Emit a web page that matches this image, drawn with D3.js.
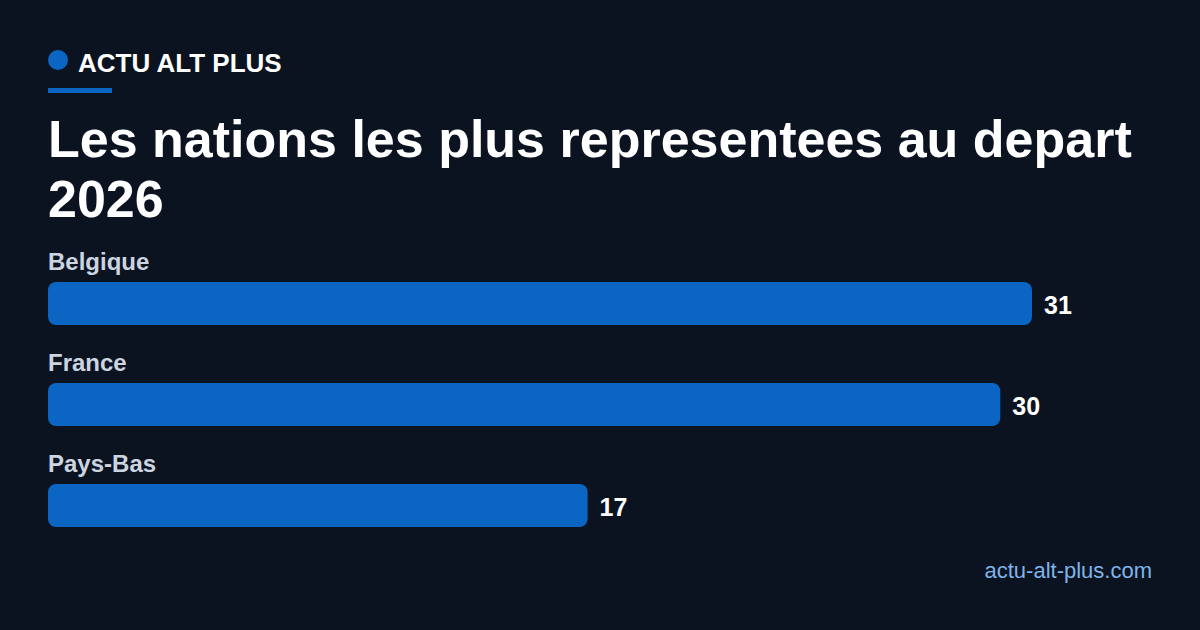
<!DOCTYPE html>
<html>
<head>
<meta charset="utf-8">
<script src="https://cdn.jsdelivr.net/npm/d3@7"></script>
<style>
  html, body { margin: 0; padding: 0; background: #0b1320; }
  svg { display: block; font-family: "Liberation Sans", Arial, sans-serif; }
</style>
</head>
<body>
<svg id="chart" width="1200" height="630"></svg>
<script>
// Chart data
var countries = ["Belgique", "France", "Pays-Bas"];
var counts = [31, 30, 17];

var brand = "ACTU ALT PLUS";
var titleLines = ["Les nations les plus representees au depart", "2026"];
var source = "actu-alt-plus.com";

var width = 1200, height = 630;
var svg = d3.select("#chart");

// Background
svg.append("rect")
    .attr("width", width)
    .attr("height", height)
    .attr("fill", "#0b1320");

// Brand header
svg.append("circle")
    .attr("cx", 58)
    .attr("cy", 60)
    .attr("r", 10)
    .attr("fill", "#0b66c3");

svg.append("text")
    .attr("x", 78)
    .attr("y", 72)
    .attr("fill", "#ffffff")
    .style("font-size", "26px")
    .style("font-weight", "700")
    .text(brand);

svg.append("rect")
    .attr("x", 48)
    .attr("y", 88)
    .attr("width", 64)
    .attr("height", 5)
    .attr("fill", "#0b66c3");

// Title
svg.append("text")
    .attr("fill", "#ffffff")
    .style("font-size", "52px")
    .style("font-weight", "700")
    .selectAll("tspan")
    .data(titleLines)
    .enter().append("tspan")
    .attr("x", 48)
    .attr("y", (d, i) => 157 + i * 60)
    .text(d => d);

// Scales
var x = d3.scaleLinear()
    .domain([0, d3.max(counts)])
    .range([48, 1032]);

var y = d3.scaleBand()
    .domain(countries)
    .range([282, 585])
    .paddingInner(0)
    .paddingOuter(0);

var barHeight = 43;

var rows = svg.selectAll(".row")
    .data(countries)
    .enter().append("g")
    .attr("class", "row");

// Category labels
rows.append("text")
    .attr("x", 48)
    .attr("y", d => y(d) - 12)
    .attr("fill", "#cbd5e1")
    .style("font-size", "24px")
    .style("font-weight", "700")
    .text(d => d);

// Bars
rows.append("rect")
    .attr("x", x(0))
    .attr("y", d => y(d))
    .attr("width", (d, i) => x(counts[i]) - x(0))
    .attr("height", barHeight)
    .attr("rx", 8)
    .attr("fill", "#0b66c3");

// Value labels
rows.append("text")
    .attr("x", (d, i) => x(counts[i]) + 12)
    .attr("y", d => y(d) + barHeight / 2 + 10)
    .attr("fill", "#ffffff")
    .style("font-size", "25px")
    .style("font-weight", "700")
    .text((d, i) => counts[i]);

// Footer
svg.append("text")
    .attr("x", 1152)
    .attr("y", 578)
    .attr("text-anchor", "end")
    .attr("fill", "#7fb4ea")
    .style("font-size", "22px")
    .text(source);
</script>
</body>
</html>
